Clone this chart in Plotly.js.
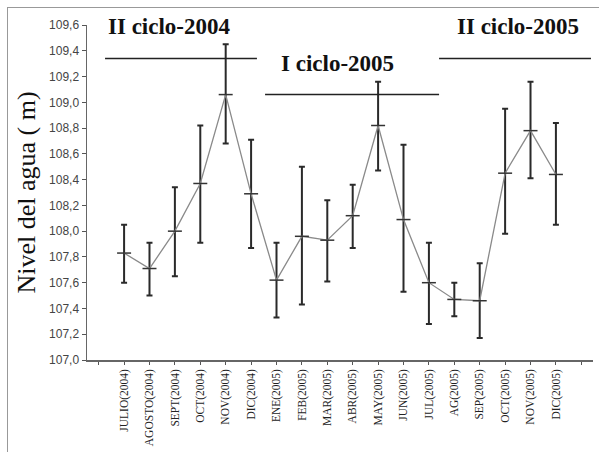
<!DOCTYPE html>
<html>
<head>
<meta charset="utf-8">
<script src="https://cdn.plot.ly/plotly-3.0.1.min.js"></script>
<style>
html,body{margin:0;padding:0;background:#fff;}
#wrap{position:relative;width:599px;height:452px;overflow:hidden;}
#chart{position:absolute;left:0;top:0;width:599px;height:452px;}
#frame{position:absolute;left:7px;top:7px;width:700px;height:600px;border-left:1.5px solid #999;border-top:1.5px solid #999;pointer-events:none;}
</style>
</head>
<body>
<div id="wrap"><div id="chart"></div><div id="frame"></div></div>
<script>
const months = ["JULIO(2004)","AGOSTO(2004)","SEPT(2004)","OCT(2004)","NOV(2004)","DIC(2004)",
  "ENE(2005)","FEB(2005)","MAR(2005)","ABR(2005)","MAY(2005)","JUN(2005)","JUL(2005)",
  "AG(2005)","SEP(2005)","OCT(2005)","NOV(2005)","DIC(2005)"];
const meanLevel = [107.83,107.71,108.00,108.37,109.06,108.29,107.62,107.96,107.93,108.12,108.82,108.09,107.60,107.47,107.46,108.45,108.78,108.44];
const upperLevel = [108.05,107.91,108.34,108.82,109.45,108.71,107.91,108.50,108.24,108.36,109.16,108.67,107.91,107.60,107.75,108.95,109.16,108.84];
const lowerLevel = [107.60,107.50,107.65,107.91,108.68,107.87,107.33,107.43,107.61,107.87,108.47,107.53,107.28,107.34,107.17,107.98,108.41,108.05];
const yTicks = [107.0,107.2,107.4,107.6,107.8,108.0,108.2,108.4,108.6,108.8,109.0,109.2,109.4,109.6];
const cycleLabels = ["II ciclo-2004","I ciclo-2005","II ciclo-2005"];
const cycleStart = [-0.75,5.55,12.4];
const cycleEnd = [5.23,12.4,18.38];
const cycleLineY = [109.34,109.06,109.34];
const cycleLabelX = [1.77,8.42,15.49];
const cycleLabelY = [109.585,109.30,109.585];

const xIdx = months.map((m,i)=>i);
const errPlus = upperLevel.map((u,i)=>u-meanLevel[i]);
const errMinus = lowerLevel.map((l,i)=>meanLevel[i]-l);
const tickVals = [-1].concat(xIdx).concat([18]);
const tickText = [""].concat(months).concat([""]);

const trace = {
  x: xIdx, y: meanLevel, type: 'scatter', mode: 'lines+markers',
  line: {color: '#8a8a8a', width: 1.3},
  marker: {symbol: 'line-ew-open', size: 10, color: '#333', line: {color: '#333', width: 1.5}},
  error_y: {type: 'data', symmetric: false, array: errPlus, arrayminus: errMinus,
            color: '#2a2a2a', thickness: 2, width: 3},
  hoverinfo: 'skip'
};

const shapes = cycleLabels.map((c,i)=>({
  type: 'line', xref: 'x', yref: 'y', x0: cycleStart[i], x1: cycleEnd[i],
  y0: cycleLineY[i], y1: cycleLineY[i], line: {color: '#222', width: 1.5}
}));
const annotations = cycleLabels.map((c,i)=>({
  text: c, xref: 'x', yref: 'y', x: cycleLabelX[i], y: cycleLabelY[i],
  showarrow: false, xanchor: 'center', yanchor: 'middle',
  font: {family: 'Liberation Serif', size: 23, color: '#111', weight: 'bold'}
}));

const layout = {
  width: 599, height: 452,
  margin: {l: 87, r: 6, t: 25, b: 92},
  paper_bgcolor: '#fff', plot_bgcolor: '#fff',
  separators: ',.',
  showlegend: false,
  xaxis: {
    range: [-1.46, 18.46], tickmode: 'array', tickvals: tickVals, ticktext: tickText,
    tickangle: -90, ticks: 'outside', ticklen: 3, tickcolor: '#555',
    showline: true, linecolor: '#666', linewidth: 1.5, showgrid: false, zeroline: false,
    tickfont: {family: 'Liberation Serif', size: 11.5, color: '#222'}
  },
  yaxis: {
    range: [107.0, 109.6], tickmode: 'array', tickvals: yTicks, tickformat: '.1f',
    ticks: 'outside', ticklen: 4, tickcolor: '#555',
    showline: true, linecolor: '#666', linewidth: 1.5, showgrid: false, zeroline: false,
    tickfont: {family: 'Liberation Sans', size: 12, color: '#444'},
    title: {text: 'Nivel del agua ( m)', standoff: 6,
            font: {family: 'Liberation Serif', size: 26, color: '#111'}}
  },
  shapes: shapes,
  annotations: annotations
};

Plotly.newPlot('chart', [trace], layout, {displayModeBar: false, staticPlot: true});
</script>
</body>
</html>
